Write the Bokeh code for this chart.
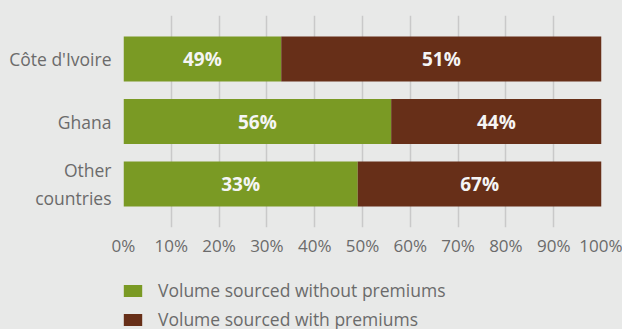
from bokeh.plotting import figure
from bokeh.layouts import column
from bokeh.models import (FactorRange, Range1d, FixedTicker, PrintfTickFormatter,
                          Legend, LegendItem, ColumnDataSource)
from bokeh.core.properties import value
from bokeh.embed import file_html
from bokeh.resources import INLINE

countries = ["Côte d'Ivoire", "Ghana", "Other\ncountries"]
without_premiums = [33, 56, 49]          # bar lengths as drawn
with_premiums = [67, 44, 51]
label_without = ["49%", "56%", "33%"]    # labels as printed
label_with = ["51%", "44%", "67%"]
x_ticks = [0, 10, 20, 30, 40, 50, 60, 70, 80, 90, 100]
series_names = ["Volume sourced without premiums", "Volume sourced with premiums"]

GREEN = "#7a9a24"
BROWN = "#672f18"
BG = "#e8e9e8"
TXT = "#6b6b6b"
FONT = "Open Sans"

factors = list(reversed(countries))
p = figure(frame_width=478, frame_height=212, output_backend="svg", toolbar_location=None,
           y_range=FactorRange(factors=factors, range_padding=0.392 / 3),
           x_range=Range1d(0, 100),
           min_border_left=123, min_border_right=21, min_border_top=15,
           min_border_bottom=41)
p.background_fill_color = BG
p.border_fill_color = BG
p.outline_line_color = None

src = ColumnDataSource(dict(
    country=countries,
    without=without_premiums,
    withp=with_premiums,
    lw=label_without,
    lp=label_with,
    xw=[v / 2 for v in without_premiums],
    xp=[a + b / 2 for a, b in zip(without_premiums, with_premiums)],
))

rs = p.hbar_stack(["without", "withp"], y="country", height=0.72, color=[GREEN, BROWN],
                  source=src, line_color=None)

for col_x, col_t in (("xw", "lw"), ("xp", "lp")):
    p.text(x=col_x, y="country", text=col_t, source=src, text_align="center",
           text_baseline="middle", text_color="#f5f5f5", text_font=value(FONT),
           text_font_style="bold", text_font_size="19px")

# grid
p.ygrid.grid_line_color = None
p.xgrid.grid_line_color = "#c9c9c9"
p.xgrid.grid_line_width = 1.5
p.xgrid.ticker = FixedTicker(ticks=x_ticks)

# x axis
p.xaxis.ticker = FixedTicker(ticks=x_ticks)
p.xaxis.formatter = PrintfTickFormatter(format="%d%%")
p.xaxis.axis_line_color = None
p.xaxis.major_tick_line_color = None
p.xaxis.minor_tick_line_color = None
p.xaxis.major_tick_out = 0
p.xaxis.major_tick_in = 0
p.xaxis.minor_tick_out = 0
p.xaxis.major_label_standoff = 6
p.xaxis.major_label_text_font = FONT
p.xaxis.major_label_text_font_size = "17px"
p.xaxis.major_label_text_color = TXT

# y axis
p.yaxis.axis_line_color = None
p.yaxis.major_tick_line_color = None
p.yaxis.minor_tick_line_color = None
p.yaxis.major_tick_out = 0
p.yaxis.major_tick_in = 0
p.yaxis.minor_tick_out = 0
p.yaxis.major_label_standoff = 12
p.yaxis.major_label_text_font = FONT
p.yaxis.major_label_text_font_size = "17.5px"
p.yaxis.major_label_text_color = TXT

# legend strip below the chart (frame aligned with the chart frame)
p2 = figure(frame_width=478, frame_height=61, output_backend="svg", toolbar_location=None,
            x_range=Range1d(0, 1), y_range=Range1d(0, 1),
            x_axis_location=None, y_axis_location=None,
            min_border_left=123, min_border_right=21, min_border_top=0,
            min_border_bottom=0)
p2.grid.visible = False
p2.background_fill_color = BG
p2.border_fill_color = BG
p2.outline_line_color = None
# zero-size swatch carriers for the legend entries
d1 = p2.rect(x=[0], y=[0], width=0, height=0, fill_color=GREEN, line_color=None)
d2 = p2.rect(x=[0], y=[0], width=0, height=0, fill_color=BROWN, line_color=None)

legend = Legend(items=[LegendItem(label=series_names[0], renderers=[d1]),
                       LegendItem(label=series_names[1], renderers=[d2])],
                location=(-2, -2), orientation="vertical")
legend.background_fill_alpha = 0
legend.border_line_color = None
legend.padding = 0
legend.margin = 0
legend.spacing = 5
legend.glyph_width = 23
legend.glyph_height = 15
legend.label_standoff = 14
legend.label_text_font = FONT
legend.label_text_font_size = "17.5px"
legend.label_text_color = TXT
legend.label_height = 15
p2.add_layout(legend, "center")

layout = column(p, p2, spacing=0, background=BG)
open("out.html", "w").write(file_html(layout, INLINE))
